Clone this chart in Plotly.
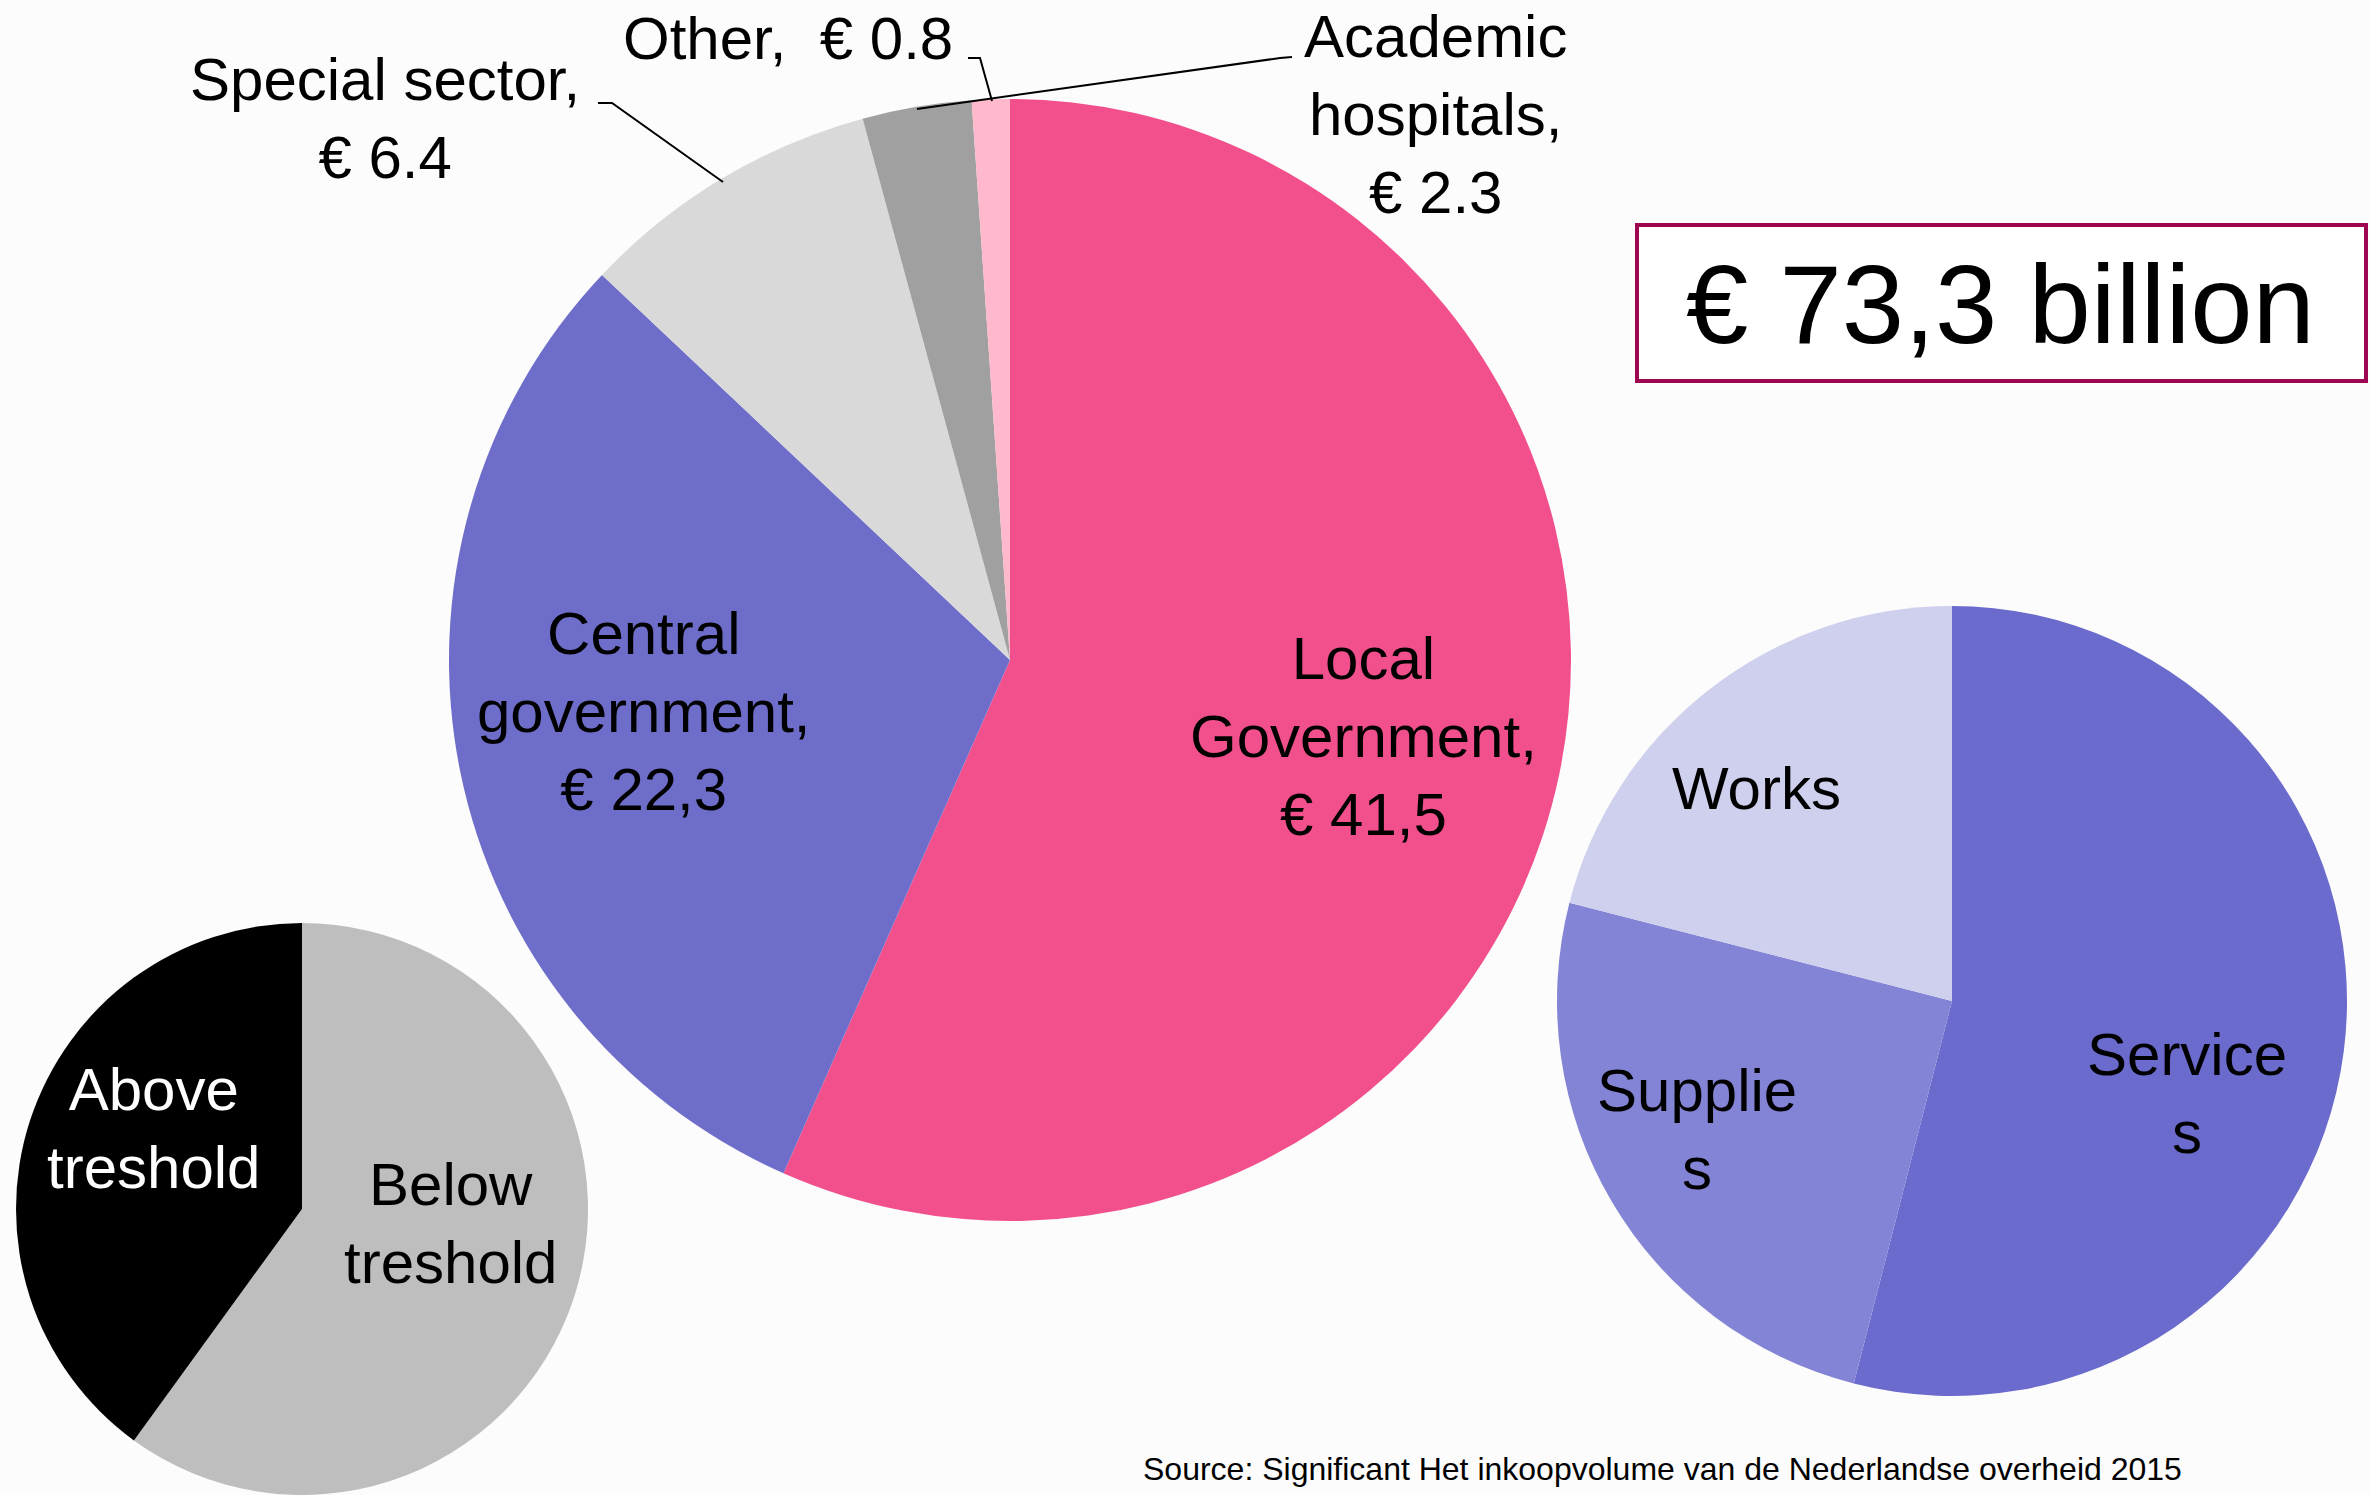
import plotly.graph_objects as go

W, H = 2370, 1495

# ---------------- data ----------------
main_labels = ["Local Government", "Central government", "Special sector", "Academic hospitals", "Other"]
main_values = [41.5, 22.3, 6.4, 2.3, 0.8]
main_texts = ["Local<br>Government,<br>€ 41,5", "Central<br>government,<br>€ 22,3",
              "Special sector,<br>€ 6.4", "Academic<br>hospitals,<br>€ 2.3", "Other,\u00a0 € 0.8"]

threshold_labels = ["Below treshold", "Above treshold"]
threshold_values = [60, 40]
threshold_texts = ["Below<br>treshold", "Above<br>treshold"]

type_labels = ["Services", "Supplies", "Works"]
type_values = [54, 25, 21]
type_texts = ["Service<br>s", "Supplie<br>s", "Works"]

total_label = "€ 73,3 billion"
source_text = "Source: Significant Het inkoopvolume van de Nederlandse overheid 2015"

# ---------------- styles ----------------
main_colors = ["#F2508C", "#6E6ECA", "#D9D9D9", "#A0A0A0", "#FFB8CC"]
threshold_colors = ["#BEBEBE", "#000000"]
type_colors = ["#6B6BCD", "#8484D6", "#CFCFEE"]
FONT = "Liberation Sans, Arial, Helvetica, sans-serif"
BG = "#FCFCFC"


def px(x):
    return x / W


def py(y):
    return 1 - y / H


fig = go.Figure()

fig.add_trace(go.Pie(
    labels=main_labels, values=main_values, sort=False, direction="clockwise", rotation=0,
    textinfo="none", hoverinfo="label+value",
    marker=dict(colors=main_colors, line=dict(width=0)),
    domain=dict(x=[px(449), px(1571)], y=[py(1221), py(99)]),
    showlegend=False,
))
fig.add_trace(go.Pie(
    labels=threshold_labels, values=threshold_values, sort=False, direction="clockwise", rotation=0,
    textinfo="none", hoverinfo="label+percent",
    marker=dict(colors=threshold_colors, line=dict(width=0)),
    domain=dict(x=[px(15), px(589)], y=[0, py(923)]),
    showlegend=False,
))
fig.add_trace(go.Pie(
    labels=type_labels, values=type_values, sort=False, direction="clockwise", rotation=0,
    textinfo="none", hoverinfo="label+percent",
    marker=dict(colors=type_colors, line=dict(width=0)),
    domain=dict(x=[px(1557), px(2347)], y=[py(1396), py(606)]),
    showlegend=False,
))

annotations = []


def label(text, x, y, size=60, color="black"):
    annotations.append(dict(
        text=text, x=px(x), y=py(y), xref="paper", yref="paper",
        showarrow=False, xanchor="center", yanchor="middle", align="center",
        font=dict(family=FONT, size=size, color=color),
    ))


# main pie labels
label(main_texts[0], 1363, 736)
label(main_texts[1], 644, 711)
label(main_texts[2], 385, 118)
label(main_texts[3], 1435, 114)
label(main_texts[4], 788, 38)
# threshold pie labels
label(threshold_texts[0], 450, 1223)
label(threshold_texts[1], 153, 1128, color="white")
# type pie labels
label(type_texts[0], 2187, 1093)
label(type_texts[1], 1697, 1129)
label(type_texts[2], 1756, 789)
# total box
label(total_label, 2001, 305, size=112)
# source
label(source_text, 1662, 1469, size=32)

shapes = []


def leader(points):
    d = "M " + " L ".join(f"{px(a):.5f},{py(b):.5f}" for a, b in points)
    shapes.append(dict(type="path", path=d, xref="paper", yref="paper",
                       line=dict(color="black", width=2)))


leader([(598, 103), (612, 103), (723, 182)])
leader([(968, 58), (980, 58), (992, 101)])
leader([(1292, 57), (1280, 58), (917, 109)])

shapes.append(dict(type="rect", xref="paper", yref="paper",
                   x0=px(1637), x1=px(2366), y0=py(381), y1=py(225),
                   line=dict(color="#9E0652", width=4), fillcolor="white", layer="below"))

fig.update_layout(
    width=W, height=H, margin=dict(l=0, r=0, t=0, b=0),
    paper_bgcolor=BG, plot_bgcolor=BG,
    annotations=annotations, shapes=shapes, showlegend=False,
)

fig.write_html("out.html", config={"displayModeBar": False},
               post_script="document.body.style.margin='0';")
